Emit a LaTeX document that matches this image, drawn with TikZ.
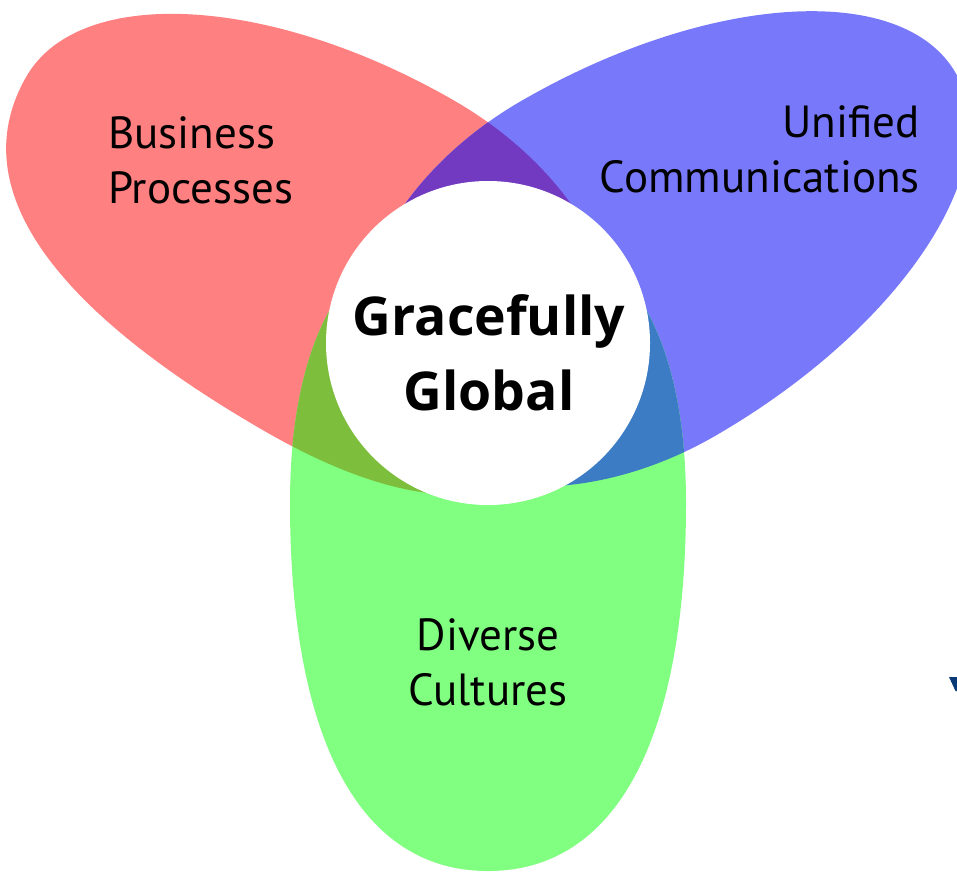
\documentclass[tikz,border=0pt]{standalone}
\usepackage{fontspec}
\setmainfont{PT Sans}
\newfontfamily\hubfont{Open Sans}
\usepackage{tikz}
\definecolor{bizred}{RGB}{255,128,128}
\definecolor{ucblue}{RGB}{120,120,250}
\definecolor{dcgreen}{RGB}{128,255,128}
\definecolor{redblue}{RGB}{114,58,192}
\definecolor{redgreen}{RGB}{125,190,60}
\definecolor{bluegreen}{RGB}{60,124,196}
\definecolor{navy}{RGB}{10,58,120}

% egg shaped petal along the x axis:
% #1 outer tip, #2 widest point, #3 inner tip, #4/#5 width and bluntness on one side, #6/#7 on the other
\newcommand\petalpath[7]{(#1,0) .. controls (#1,{#5*#4}) and ({#2+#5*(#1-#2)},#4) .. (#2,#4)
  .. controls ({#2-#5*(#2-#3)},#4) and (#3,{#5*#4}) .. (#3,0)
  .. controls (#3,{-#7*#6}) and ({#2-#7*(#2-#3)},-#6) .. (#2,-#6)
  .. controls ({#2+#7*(#1-#2)},-#6) and (#1,{-#7*#6}) .. cycle}
\def\redpetal{\petalpath{533}{150}{-130}{193}{0.552}{188}{0.66}}
\def\bluepetal{\petalpath{540}{150}{-130}{194}{0.552}{193}{0.552}}
\def\greenpetal{\petalpath{528}{160}{-125}{198}{0.645}{198}{0.645}}

\tikzset{
  red/.style={shift={(488,343)}, rotate=150},
  blue/.style={shift={(488,343)}, rotate=30},
  green/.style={shift={(488,343)}, rotate=-90},
  captxt/.style={inner sep=0pt, text=black, font=\fontsize{45}{55}\selectfont},
  hubtxt/.style={inner sep=0pt, text=black, align=center, font=\hubfont\bfseries\fontsize{53.5}{75}\selectfont}
}

\begin{document}
\begin{tikzpicture}[x=1pt,y=-1pt]
\clip (0,0) rectangle (957,873);
\fill[white] (0,0) rectangle (957,873);

\fill[bizred, red] \redpetal;
\fill[ucblue, blue] \bluepetal;
\fill[dcgreen, green] \greenpetal;

% overlaps
\begin{scope}
\clip[red] \redpetal;
\fill[redblue, blue] \bluepetal;
\fill[redgreen, green] \greenpetal;
\end{scope}
\begin{scope}
\clip[blue] \bluepetal;
\fill[bluegreen, green] \greenpetal;
\end{scope}

\node[circle, fill=white, minimum size=324pt, inner sep=0pt] (globe) at (488,343) {};
\node[hubtxt, anchor=base] (gg) at (489,410) {Gracefully\\Global};

\node[captxt, align=left, anchor=base west] (biz) at (108,203) {Business\\Processes};
\node[captxt, align=right, anchor=base east] (uc) at (920,192) {Unified\\Communications};
\node[captxt, align=center, anchor=base] (dc) at (488,705) {Diverse\\Cultures};

\fill[navy] (949,677) -- (957,677) -- (957,691) -- (955.5,691) -- cycle;
\end{tikzpicture}
\end{document}
